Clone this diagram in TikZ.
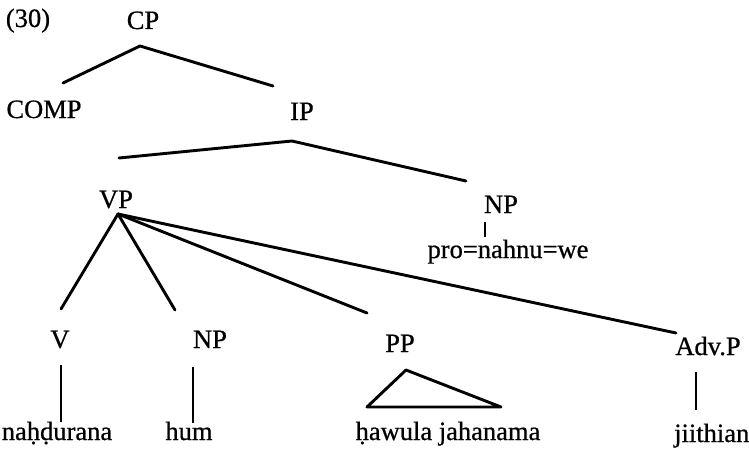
\documentclass[tikz,border=0pt]{standalone}
\usepackage{fontspec}
\setmainfont{Liberation Serif}
% regular Times-like face, slightly thickened
\newfontfamily\lblfont{Liberation Serif}[RawFeature={embolden=0.7}]
\begin{document}
\begin{tikzpicture}[x=1pt,y=-1pt,
  lbl/.style={inner sep=0pt,anchor=base,font=\lblfont\fontsize{26.5}{30}\selectfont},
  branch/.style={line width=2.9pt,line cap=round,line join=round},
  stem/.style={line width=1.6pt}]
\useasboundingbox (0,0) rectangle (749,452);

% labels
\node[lbl] (ex)    at (28,27)  {(30)};
\node[lbl] (cp)    at (143,29) {CP};
\node[lbl] (comp)  at (44,118) {COMP};
\node[lbl] (ip)    at (302,120) {IP};
\node[lbl] (vp)    at (116,208) {VP};
\node[lbl] (np)    at (501,213) {NP};
\node[lbl] (pro)   at (508,258) {pro=nahnu=we};
\node[lbl] (v)     at (60,348)  {V};
\node[lbl] (npb)   at (210,348) {NP};
\node[lbl] (pp)    at (400,352) {PP};
\node[lbl] (advp)  at (708,355) {Adv.P};
\node[lbl] (w1)    at (57,440)  {naḥḍurana};
\node[lbl] (w2)    at (189,440) {hum};
\node[lbl] (w3)    at (448,440) {ḥawula jahanama};
\node[lbl,anchor=base west] (w4) at (674,442) {jiithian};

% branch points
\coordinate (cp-foot)   at (140,46);
\coordinate (comp-top)  at (63,83);
\coordinate (ip-top)    at (273,86);
\coordinate (ip-foot)   at (292,141);
\coordinate (vp-top)    at (119,158);
\coordinate (np-top)    at (466,181);
\coordinate (vp-foot)   at (118,214);
\coordinate (v-top)     at (61,309);
\coordinate (npb-top)   at (175,310);
\coordinate (pp-top)    at (367,313);
\coordinate (advp-top)  at (676,333);

\draw[branch] (comp-top) -- (cp-foot) -- (ip-top);
\draw[branch] (vp-top) -- (ip-foot) -- (np-top);
\draw[branch] (vp-foot) -- (v-top);
\draw[branch] (vp-foot) -- (npb-top);
\draw[branch] (vp-foot) -- (pp-top);
\draw[branch] (vp-foot) -- (advp-top);

% unary stems
\draw[stem] (485,222) -- (485,237);
\draw[stem] (61,365) -- (61,422);
\draw[stem] (193,367) -- (193,423);
\draw[stem] (696,372) -- (696,410);

% triangle over the PP
\draw[branch] (406,370) -- (367,407) -- (501,407) -- cycle;
\end{tikzpicture}
\end{document}
